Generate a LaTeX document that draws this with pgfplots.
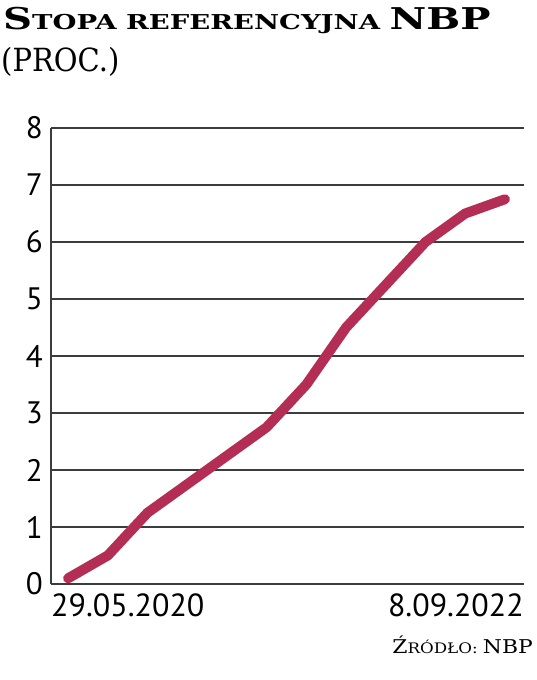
\documentclass[border=0pt]{standalone}
\usepackage{pgfplots}
\pgfplotsset{compat=1.18}
\usepackage{fontspec}
\setmainfont{DejaVu Serif}
\newfontfamily\tickfont{PT Sans}
\newfontfamily\slab{DejaVu Serif}
\definecolor{rate}{RGB}{180,45,85}
\definecolor{gridc}{RGB}{60,60,60}
\begin{document}
\begin{tikzpicture}[x=1pt,y=1pt]
\path[use as bounding box] (0,0) rectangle (536,680);
% title
\node[anchor=base west, inner sep=0pt] at (3,650)
  {\scalebox{1.34}[1]{\slab\bfseries\fontsize{30}{30}\selectfont S\fontsize{20.5}{20}\selectfont TOPA REFERENCYJNA \fontsize{30}{30}\selectfont NBP}};
\node[anchor=base west, inner sep=0pt] at (1,608)
  {\scalebox{1.0}[1.1]{\slab\fontsize{29}{29}\selectfont (PROC.)}};
% source
\node[anchor=base east, inner sep=0pt] at (533,27)
  {\scalebox{1.15}[1]{\slab\fontsize{19}{19}\selectfont Ź\fontsize{14.5}{14}\selectfont RÓDŁO: \fontsize{19}{19}\selectfont NBP}};
\begin{axis}[
  at={(51pt,96pt)}, anchor=south west,
  scale only axis,
  width=473pt, height=456pt,
  xmin=-0.43, xmax=11.48,
  ymin=0, ymax=8,
  ytick={0,1,...,8},
  xtick=\empty,
  axis x line=none,
  axis y line*=left,
  y axis line style={line width=1.6pt, draw=gridc, -},
  major tick length=0pt,
  ymajorgrids,
  grid style={line width=1.6pt, draw=gridc},
  /pgf/number format/assume math mode=true,
  yticklabel style={font=\tickfont\fontsize{31}{31}\selectfont, inner sep=0pt, anchor=east, xshift=-8pt},
  clip=false,
]
\addplot[rate, line width=10pt, line cap=round, line join=round] coordinates {
  (0,0.1) (1,0.5) (2,1.25) (3,1.75) (4,2.25) (5,2.75)
  (6,3.5) (7,4.5) (8,5.25) (9,6.0) (10,6.5) (11,6.75)
};
\node[anchor=north west, inner sep=0pt, font=\tickfont\fontsize{32}{32}\selectfont] at (rel axis cs:0,0) [yshift=-10pt] {29.05.2020};
\node[anchor=north east, inner sep=0pt, font=\tickfont\fontsize{32}{32}\selectfont] at (rel axis cs:1,0) [yshift=-10pt] {8.09.2022};
\end{axis}
\end{tikzpicture}
\end{document}
